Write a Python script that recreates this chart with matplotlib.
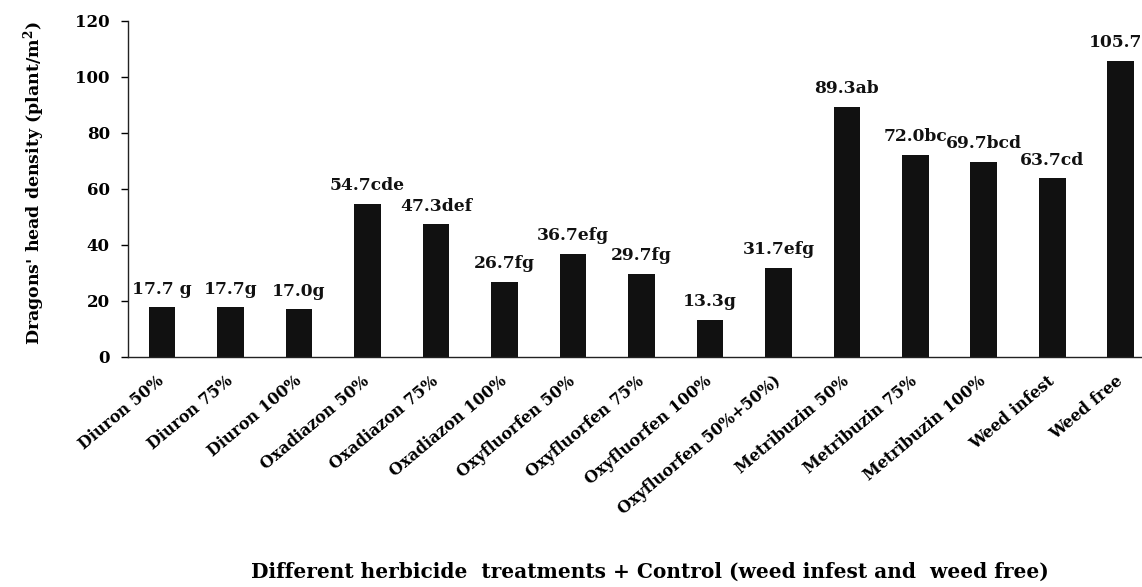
import matplotlib
matplotlib.use("Agg")
import matplotlib.pyplot as plt

# Treatments and measured densities
treatments = [
    "Diuron 50%", "Diuron 75%", "Diuron 100%",
    "Oxadiazon 50%", "Oxadiazon 75%", "Oxadiazon 100%",
    "Oxyfluorfen 50%", "Oxyfluorfen 75%", "Oxyfluorfen 100%",
    "Oxyfluorfen 50%+50%)",
    "Metribuzin 50%", "Metribuzin 75%", "Metribuzin 100%",
    "Weed infest", "Weed free",
]
density = [17.7, 17.7, 17.0, 54.7, 47.3, 26.7, 36.7, 29.7, 13.3, 31.7,
           89.3, 72.0, 69.7, 63.7, 105.7]
value_text = ["17.7 g", "17.7g", "17.0g", "54.7cde", "47.3def", "26.7fg",
              "36.7efg", "29.7fg", "13.3g", "31.7efg", "89.3ab", "72.0bc",
              "69.7bcd", "63.7cd", "105.7a"]
y_ticks = [0, 20, 40, 60, 80, 100, 120]

plt.rcParams["font.family"] = ["DejaVu Serif"]
plt.rcParams["font.weight"] = "bold"
plt.rcParams["mathtext.fontset"] = "dejavuserif"

fig = plt.figure(figsize=(11.42, 5.87), dpi=100)
ax = fig.add_axes([0.112, 0.392, 0.8994, 0.5727])

x = list(range(len(treatments)))
bars = ax.bar(x, density, width=0.39, color="#111111", zorder=2)

for b, v, t in zip(bars, density, value_text):
    ax.annotate(t, (b.get_x() + b.get_width() / 2, v), xytext=(0, 7),
                textcoords="offset points", ha="center", va="bottom",
                fontsize=12.3, fontweight="bold", color="#111111",
                annotation_clip=False)

ax.set_xlim(-0.5, len(treatments) - 0.5)
ax.set_ylim(0, 120)
ax.set_yticks(y_ticks)
ax.set_yticklabels([str(t) for t in y_ticks], fontsize=12, fontweight="bold")
ax.set_xticks(x)
ax.set_xticklabels(treatments, rotation=40, ha="right", va="center",
                   rotation_mode="anchor", fontsize=11.5, fontweight="bold")
ax.tick_params(axis="x", length=0, pad=16)
ax.tick_params(axis="y", direction="out", length=5, width=1, pad=8)

for s in ("top", "right"):
    ax.spines[s].set_visible(False)
for s in ("left", "bottom"):
    ax.spines[s].set_linewidth(1.0)
    ax.spines[s].set_color("#222222")

fig.text(0.030, 0.688, "Dragons' head density (plant/m$^\\mathbf{2}$)",
         rotation=90, ha="center", va="center", fontsize=12.5,
         fontweight="bold")
fig.text(0.569, 0.026,
         "Different herbicide  treatments + Control (weed infest and  weed free)",
         ha="center", va="center", fontsize=14.5, fontweight="bold")

fig.savefig("out.png", dpi=100)
